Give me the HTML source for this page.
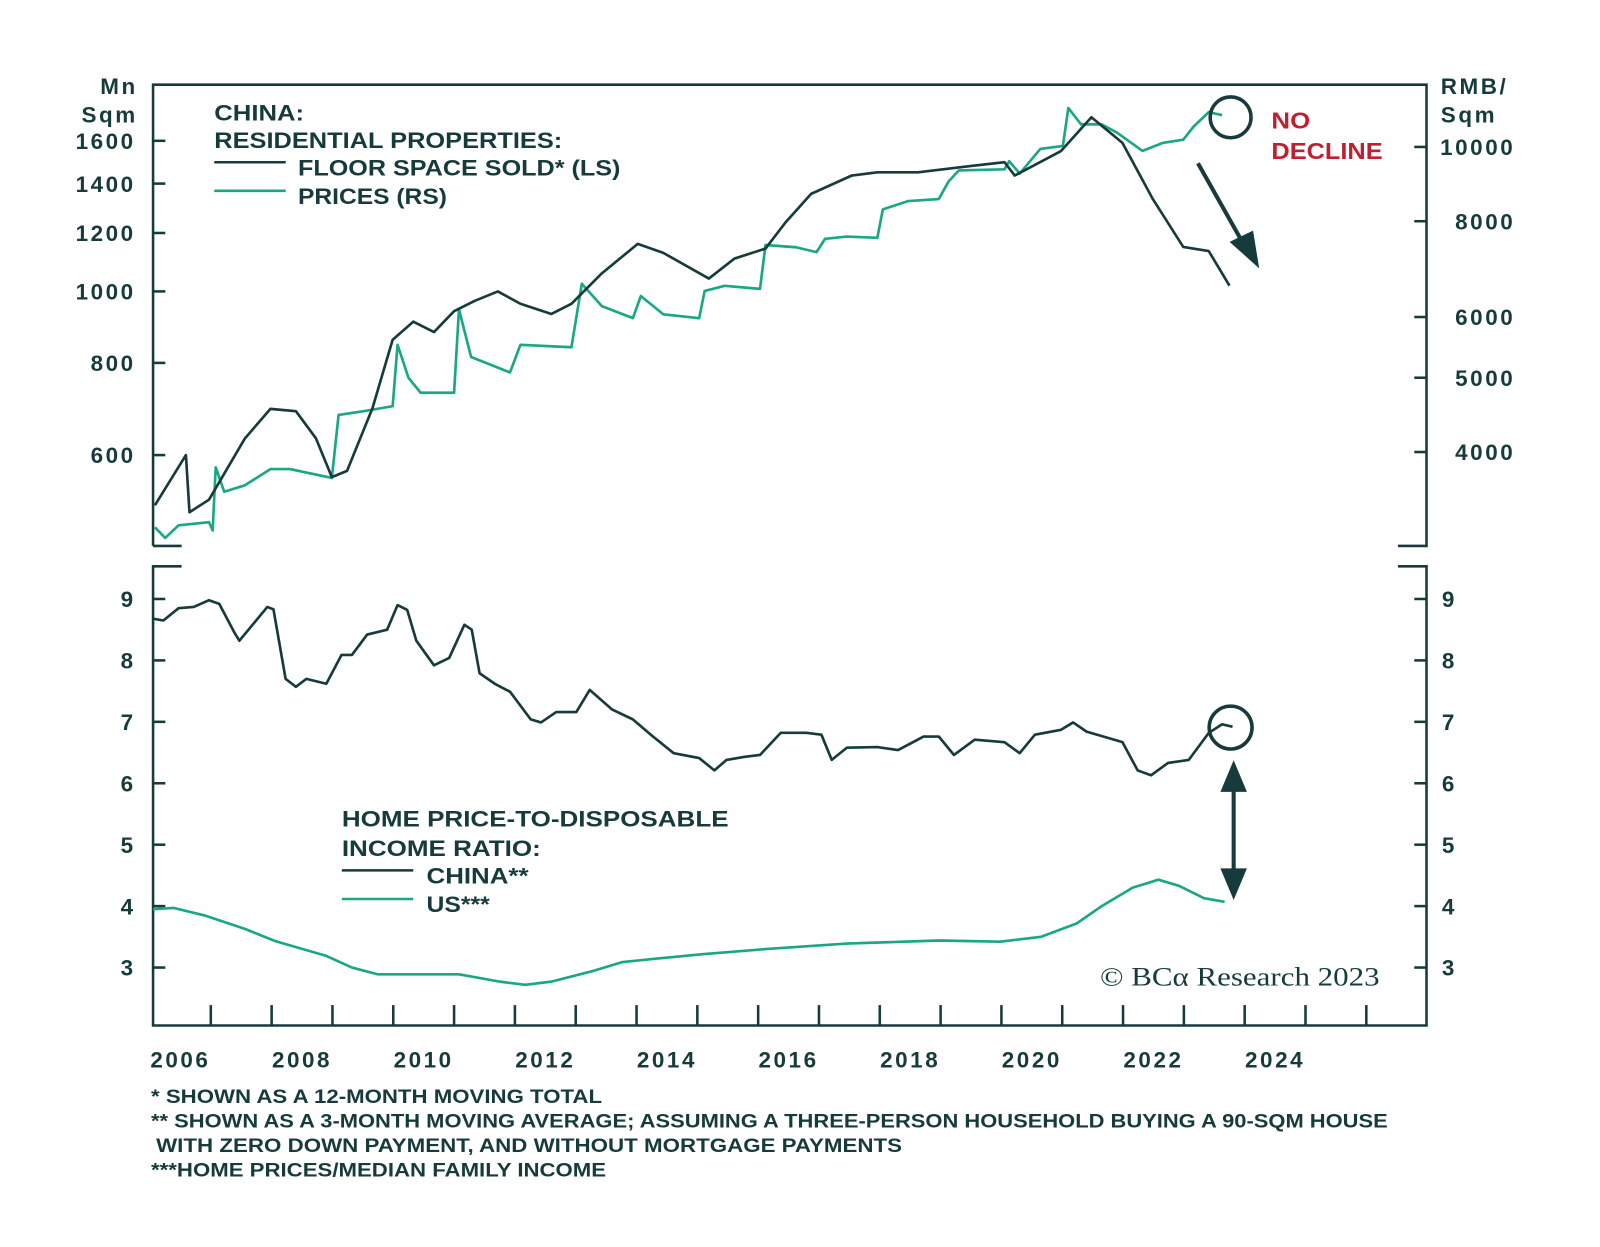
<!DOCTYPE html>
<html><head><meta charset="utf-8"><style>
body{margin:0;background:#fff;}
svg{display:block;font-family:"Liberation Sans",sans-serif;}
#labels text{letter-spacing:2.5px;}
</style></head><body>
<svg id="chart" width="1600" height="1247" viewBox="0 0 1600 1247">
<g transform="scale(1.0204)">
<g id="frame" fill="none" stroke="#173b3b" stroke-width="2.5">
<path d="M150,535 V83 H1398 V535 H1370" />
<path d="M150,535 H178" />
<path d="M178,555 H150 V1005 H1398 V555 H1370" />
</g>
<g id="ticks" stroke="#173b3b" stroke-width="2.5"></g>
<g id="labels" fill="#173b3b" font-weight="bold" font-size="22"></g>
<g id="series"></g>
<g fill="#173b3b" font-weight="bold" font-size="22" lengthAdjust="spacingAndGlyphs">
<text x="210" y="118" textLength="88" lengthAdjust="spacingAndGlyphs">CHINA:</text>
<text x="210" y="145" textLength="341" lengthAdjust="spacingAndGlyphs">RESIDENTIAL PROPERTIES:</text>
<line x1="210" y1="159" x2="280" y2="159" stroke="#173b3b" stroke-width="2.5"/>
<text x="292" y="172" textLength="316" lengthAdjust="spacingAndGlyphs">FLOOR SPACE SOLD* (LS)</text>
<line x1="210" y1="187" x2="280" y2="187" stroke="#1aa884" stroke-width="2.5"/>
<text x="292" y="200" textLength="146" lengthAdjust="spacingAndGlyphs">PRICES (RS)</text>
</g>
<g fill="#173b3b" font-weight="bold" font-size="22">
<text x="335" y="810" textLength="379" lengthAdjust="spacingAndGlyphs">HOME PRICE-TO-DISPOSABLE</text>
<text x="335" y="839" textLength="195" lengthAdjust="spacingAndGlyphs">INCOME RATIO:</text>
<line x1="335" y1="853" x2="405" y2="853" stroke="#173b3b" stroke-width="2.5"/>
<text x="418" y="866" textLength="100" lengthAdjust="spacingAndGlyphs">CHINA**</text>
<line x1="335" y1="881" x2="405" y2="881" stroke="#1aa884" stroke-width="2.5"/>
<text x="418" y="894" textLength="62" lengthAdjust="spacingAndGlyphs">US***</text>
</g>
<g>
<circle cx="1206" cy="115" r="20" fill="none" stroke="#173b3b" stroke-width="3.5"/>
<text x="1246" y="126" textLength="38" lengthAdjust="spacingAndGlyphs" fill="#c0202e" font-weight="bold" font-size="23">NO</text>
<text x="1246" y="156" textLength="109" lengthAdjust="spacingAndGlyphs" fill="#c0202e" font-weight="bold" font-size="23">DECLINE</text>
<line x1="1174" y1="160" x2="1218" y2="238" stroke="#173b3b" stroke-width="4"/>
<polygon points="1234,263 1205,237 1228,226" fill="#173b3b"/>
<circle cx="1206" cy="713" r="21" fill="none" stroke="#173b3b" stroke-width="3.5"/>
<line x1="1209" y1="765" x2="1209" y2="862" stroke="#173b3b" stroke-width="4"/>
<polygon points="1209,745 1196,776 1222,776" fill="#173b3b"/>
<polygon points="1209,882 1196,851 1222,851" fill="#173b3b"/>
<text x="1078" y="966" textLength="274" lengthAdjust="spacingAndGlyphs" fill="#173b3b" font-family="Liberation Serif,serif" font-size="26">© BCα Research 2023</text>
</g>
<g fill="#173b3b" font-weight="bold" font-size="19">
<text x="148" y="1081" textLength="442" lengthAdjust="spacingAndGlyphs">* SHOWN AS A 12-MONTH MOVING TOTAL</text>
<text x="148" y="1105" textLength="1212" lengthAdjust="spacingAndGlyphs">** SHOWN AS A 3-MONTH MOVING AVERAGE; ASSUMING A THREE-PERSON HOUSEHOLD BUYING A 90-SQM HOUSE</text>
<text x="153" y="1129" textLength="731" lengthAdjust="spacingAndGlyphs">WITH ZERO DOWN PAYMENT, AND WITHOUT MORTGAGE PAYMENTS</text>
<text x="148" y="1153" textLength="446" lengthAdjust="spacingAndGlyphs">***HOME PRICES/MEDIAN FAMILY INCOME</text>
</g>
</g>
</svg>
<script>
const floorDates=[2006.08,2006.59,2006.65,2006.97,2007.56,2007.98,2008.4,2008.73,2008.99,2009.24,2009.66,2009.99,2010.33,2010.67,2011.0,2011.34,2011.72,2012.09,2012.6,2012.93,2013.43,2014.02,2014.44,2015.19,2015.61,2016.12,2016.45,2016.87,2017.54,2017.96,2018.63,2019.47,2020.05,2020.22,2020.98,2021.48,2021.99,2022.49,2022.99,2023.41,2023.75];
const floorValues=[513,600,502,522,632,693,688,632,560,571,695,860,910,881,940,971,1000,962,932,962,1058,1160,1128,1041,1108,1143,1240,1356,1436,1450,1450,1478,1497,1436,1550,1722,1590,1334,1149,1134,1018];
const priceDates=[2006.08,2006.25,2006.47,2006.97,2007.03,2007.08,2007.22,2007.56,2007.98,2008.3,2008.99,2009.1,2009.5,2009.99,2010.07,2010.25,2010.45,2011.0,2011.08,2011.28,2011.92,2012.09,2012.93,2013.1,2013.43,2013.94,2014.07,2014.44,2015.03,2015.12,2015.45,2016.03,2016.12,2016.62,2016.96,2017.1,2017.46,2017.96,2018.05,2018.47,2018.97,2019.13,2019.3,2020.05,2020.13,2020.3,2020.64,2021.01,2021.1,2021.31,2021.65,2021.9,2022.32,2022.65,2022.99,2023.16,2023.41,2023.63];
const priceValues=[3190,3090,3210,3240,3160,3820,3550,3620,3800,3800,3700,4470,4520,4590,5520,5000,4780,4780,6140,5320,5080,5520,5480,6630,6200,5980,6390,6050,5980,6490,6590,6530,7450,7400,7290,7590,7640,7610,8290,8500,8550,9010,9320,9350,9580,9230,9940,10030,11240,10700,10700,10440,9880,10120,10220,10630,11100,11000];
const chinaDates=[2006.05,2006.22,2006.47,2006.72,2006.97,2007.14,2007.39,2007.47,2007.93,2008.03,2008.23,2008.4,2008.57,2008.9,2009.15,2009.32,2009.57,2009.9,2010.07,2010.23,2010.38,2010.67,2010.92,2011.17,2011.29,2011.42,2011.67,2011.92,2012.26,2012.43,2012.68,2013.01,2013.23,2013.6,2013.94,2014.27,2014.61,2015.03,2015.28,2015.48,2015.78,2016.03,2016.37,2016.79,2017.04,2017.21,2017.46,2017.96,2018.3,2018.72,2018.97,2019.22,2019.56,2020.05,2020.3,2020.55,2020.98,2021.18,2021.4,2021.99,2022.24,2022.46,2022.74,2023.08,2023.41,2023.63,2023.8];
const chinaValues=[8.68,8.65,8.85,8.87,8.98,8.92,8.45,8.32,8.87,8.83,7.7,7.57,7.7,7.62,8.09,8.09,8.42,8.5,8.9,8.82,8.32,7.92,8.04,8.58,8.5,7.79,7.62,7.49,7.04,6.99,7.16,7.16,7.52,7.2,7.04,6.76,6.49,6.41,6.21,6.38,6.43,6.46,6.82,6.82,6.79,6.38,6.58,6.59,6.54,6.76,6.76,6.46,6.71,6.67,6.49,6.79,6.87,6.99,6.84,6.67,6.21,6.13,6.33,6.38,6.82,6.96,6.92];
const usDates=[2006.05,2006.39,2006.89,2007.56,2008.06,2008.9,2009.32,2009.74,2010.25,2011.08,2011.75,2012.17,2012.6,2013.27,2013.77,2014.27,2015.11,2016.12,2017.46,2018.97,2019.98,2020.65,2021.24,2021.65,2022.16,2022.58,2022.92,2023.33,2023.67];
const usValues=[3.95,3.97,3.85,3.63,3.43,3.19,3.0,2.89,2.89,2.89,2.77,2.72,2.77,2.94,3.09,3.14,3.22,3.30,3.39,3.44,3.42,3.50,3.72,4.0,4.30,4.43,4.33,4.13,4.07];
const leftTicks=[600,800,1000,1200,1400,1600];
const rightTicks=[4000,5000,6000,8000,10000];
const ratioTicks=[3,4,5,6,7,8,9];
const yearLabels=[2006,2008,2010,2012,2014,2016,2018,2020,2022,2024];

const NS="http://www.w3.org/2000/svg";
const X=t=>147+(t-2006)*59.6;
const YL=v=>138-314*Math.log(v/1600);
const YR=v=>144-326.3*Math.log(v/10000);
const YB=v=>587-(v-9)*60.2;
function mk(tag,attrs,parent){const e=document.createElementNS(NS,tag);for(const k in attrs)e.setAttribute(k,attrs[k]);document.getElementById(parent).appendChild(e);return e;}
leftTicks.forEach(v=>{const y=YL(v);
 const l=mk('line',{x1:150,x2:162,y1:y,y2:y},'ticks');
 
 
 const t=mk('text',{x:133,y:y+8,'text-anchor':'end'},'labels');t.textContent=v;
 
 });
rightTicks.forEach(v=>{const y=YR(v);
 const l=mk('line',{x1:1386,x2:1398,y1:y,y2:y},'ticks');
 
 
 const t=mk('text',{x:1485,y:y+8,'text-anchor':'end'},'labels');t.textContent=v;
 
 });
ratioTicks.forEach(v=>{const y=YB(v);
 const l=mk('line',{x1:150,x2:162,y1:y,y2:y},'ticks');
 
 
 const r=mk('line',{x1:1386,x2:1398,y1:y,y2:y},'ticks');
 
 
 const t=mk('text',{x:133,y:y+8,'text-anchor':'end'},'labels');t.textContent=v;
 
 
 const t2=mk('text',{x:1413,y:y+8},'labels');t2.textContent=v;
 
 });
for(let yr=2007;yr<=2026;yr++){const x=X(yr);
 const l=mk('line',{x1:x,x2:x,y1:985,y2:1005},'ticks');
 
 }
yearLabels.forEach(yr=>{const t=mk('text',{x:X(yr+0.5),y:1046,'text-anchor':'middle'},'labels');t.textContent=yr;
 
 });
[['Mn',135,92],['Sqm',135,120]].forEach(a=>{const t=mk('text',{x:a[1],y:a[2],'text-anchor':'end'},'labels');t.textContent=a[0];
 
 });
[['RMB/',1412,92],['Sqm',1412,120]].forEach(a=>{const t=mk('text',{x:a[1],y:a[2]},'labels');t.textContent=a[0];
 
 });
function line(d,v,fy,color,name){const pts=d.map((t,i)=>X(t).toFixed(1)+','+fy(v[i]).toFixed(1)).join(' ');
 const p=mk('polyline',{points:pts,fill:'none',stroke:color,'stroke-width':2.6,'stroke-linejoin':'round'},'series');
 
 }
line(priceDates,priceValues,YR,'#1aa884','prices-line');
line(floorDates,floorValues,YL,'#173b3b','floor-space-line');
line(usDates,usValues,YB,'#1aa884','us-ratio-line');
line(chinaDates,chinaValues,YB,'#173b3b','china-ratio-line');
</script>
</body></html>
